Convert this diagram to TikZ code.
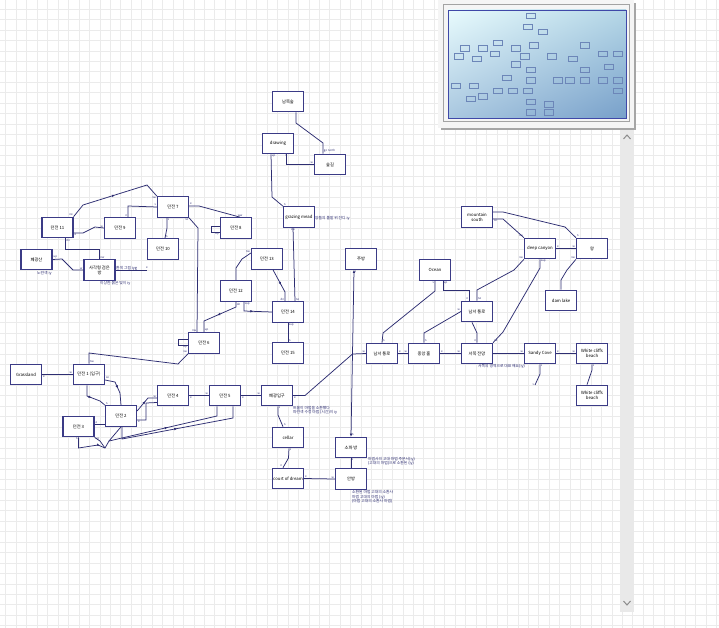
\documentclass[tikz,border=0pt]{standalone}
\usepackage{fontspec}
\setmainfont{Liberation Sans}
\newfontfamily\kr{Noto Sans CJK KR}
\usetikzlibrary{positioning, calc, arrows.meta, decorations.markings, shadings}
\definecolor{navy}{HTML}{2E2E72}
\definecolor{boxline}{HTML}{3B3B86}
\definecolor{gridgray}{HTML}{EBEBEB}
\definecolor{framegray}{HTML}{A3A3A3}
\definecolor{minibox}{HTML}{6C86B8}
\definecolor{mapedge}{HTML}{3F48A8}
\definecolor{barfill}{HTML}{E9E9E9}
\definecolor{mapUL}{HTML}{E8FBFD}
\definecolor{mapUR}{HTML}{B4D6E6}
\definecolor{mapLL}{HTML}{AAC8E0}
\definecolor{mapLR}{HTML}{78A0CA}

\begin{document}
\begin{tikzpicture}[x=1pt, y=-1pt,
    room/.style={draw=boxline, line width=1.2pt, fill=white, minimum width=31pt,
        minimum height=20.5pt, inner sep=0.5pt, align=center,
        font=\kr\fontsize{4.3}{4.9}\selectfont},
    link/.style={draw=navy, line width=0.75pt},
    flow/.style={postaction={decorate}, decoration={markings,
        mark=at position 0.5 with {\arrow[navy]{Latex[length=3pt,width=2.6pt]}}}},
    tag/.style={font=\kr\fontsize{2.8}{3}\selectfont, text=navy, inner sep=0.6pt},
    note/.style={font=\kr\fontsize{3.8}{4.4}\selectfont, text=navy, inner sep=0pt,
        anchor=west, align=left},
    tip/.style={{Latex[length=3pt,width=2.6pt]}-{Latex[length=3pt,width=2.6pt]}}
]
\useasboundingbox (0,0) rectangle (719,628);
\fill[white] (0,0) rectangle (719,628);
\foreach \i in {0,...,68}
    \draw[gridgray, line width=0.5pt] ({5.7+\i*10.45},0) -- ({5.7+\i*10.45},628);
\foreach \j in {0,...,60}
    \draw[gridgray, line width=0.5pt] (0,{9+\j*10.45}) -- (719,{9+\j*10.45});

% rooms, west part
\node[room] (b11) at (57.5,227.5) {던전 11};
\node[room] (b9) at (120,228) {던전 9};
\node[room] (b7) at (173,207) {던전 7};
\node[room] (b10) at (163,249) {던전 10};
\node[room] (b8) at (236,228) {던전 8};
\node[room] (pm) at (36.5,259.5) {폐광산};
\node[room] (sq) at (99.5,270) {사각형 검은\\방};
\node[room] (b13) at (267,259) {던전 13};
\node[room] (b12) at (236,291) {던전 12};
\node[room] (b14) at (288,312) {던전 14};
\node[room] (b15) at (288,353) {던전 15};
\node[room] (b6) at (204,343) {던전 6};
\node[room] (gl) at (26,374.5) {Grassland};
\node[room] (b1) at (89,374.5) {던전 1 (입구)};
\node[room] (b2) at (121,416) {던전 2};
\node[room] (b3) at (78.5,426.5) {던전 3};
\node[room] (b4) at (173,395.5) {던전 4};
\node[room] (b5) at (225,395.5) {던전 5};
\node[room] (cave) at (277,395.5) {폐광입구};
\node[room] (cellar) at (288,437.5) {cellar};
\node[room] (court) at (288,478.5) {court of dream};
\node[room] (sofa) at (351,447.5) {소파 방};
\node[room] (inner) at (351,479) {안방};
\node[room] (kitchen) at (361,259) {주방};
% rooms, north part
\node[room] (forest) at (288,101.5) {남쪽숲};
\node[room] (drawing) at (278,143.5) {drawing};
\node[room] (path) at (330,164.5) {숲길};
\node[room] (graze) at (299,217) {grazing mead};
% rooms, east part
\node[room] (sw1) at (382,353.5) {남서 통로};
\node[room] (hall) at (424,353.5) {중앙 홀};
\node[room] (west) at (477,353.5) {서쪽 전망};
\node[room] (cove) at (540,353.5) {Sandy Cove};
\node[room] (wcb1) at (592,353.5) {White cliffs\\beach};
\node[room] (wcb2) at (592,395.5) {White cliffs\\beach};
\node[room] (sw2) at (477,311.5) {남서 통로};
\node[room] (ocean) at (435,270) {Ocean};
\node[room] (msouth) at (477,217) {mountain\\south};
\node[room] (canyon) at (540,248.5) {deep canyon};
\node[room] (king) at (592,248.5) {왕};
\node[room] (dam) at (561,300.5) {dam lake};

\coordinate (sqend) at (147,270);
\coordinate (knot) at (109,441);
\coordinate (hub) at (352.5,354);
\coordinate (coveend) at (535,385);

% notes
\node[note] (n1) at (37,273) {노란색 iy};
\node[note] (n2) at (100,283) {이상한 붉은 빛이 iy};
\node[note] (n3) at (116,268.5) {흰색 그림 iyg};
\node[note] (n4) at (315,218) {양들의 풀밭 위 잔디 iy};
\node[note] (n5) at (293,410.5) {트롤이 마법을 소환했다\\파란색 수정 마법 (시간)이 iy};
\node[note] (n6) at (368,461.5) {마법사의 고대 마법 주문서(iy)\\(고대의 마법)으로 소환된 (iy)};
\node[note] (n7) at (352,497) {소환된 마법 고대의 소환사\\마법 고대의 마법 (iy)\\(마법 고대의 소환사 마법)};
\node[note] (n8) at (478,366) {서쪽의 영역으로 대표 해요(iy)};

% connectors, west part
\draw[link, flow] (b11.north east) node[tag, above left]{ne} -- (83,205) -- (147,185)
    -- (b7.north west) node[tag, below left]{sw};
\draw[link] ($(b11.east)+(0,5.5)$) node[tag, below right]{e} -- (83,233) -- (95,227)
    -- (b9.west) node[tag, above left]{w};
\draw[link] ($(b9.north)+(8,0)$) node[tag, above left]{n} -- (128,206)
    -- (b7.west) node[tag, above left]{s};
\draw[link] ($(b7.south)+(-6,0)$) node[tag, below right]{s} -- (167,228)
    -- ($(b10.north)+(2,0)$) node[tag, above right]{n};
\draw[link] ($(b7.east)+(0,-1)$) node[tag, above right]{e} -- (199,206)
    -- ($(b8.north)+(4,0)$) node[tag, above]{ww};
\draw[link] (b7.south east) node[tag, below left]{se} -- (198,228)
    -- ($(b6.north)+(-7,0)$) node[tag, above left]{nw};
\draw[link] ($(b8.west)+(0,-2)$) -- ++(-9,0) -- ++(0,6) -- ($(b8.west)+(0,4)$)
    node[tag, below left]{up};
\draw[link] (pm.east) node[tag, above right]{up} -- (62,259) -- (73,270)
    -- (sq.west) node[tag, above left]{w};
\draw[link] ($(b11.south)+(8,0)$) node[tag, below right]{dn} -- (65.5,249) -- (99.5,249)
    -- (sq.north) node[tag, above right]{nw};
\draw[link] (sq.east) -- (sqend) node[tag, above]{e};
\draw[link] ($(b13.west)+(0,-6)$) node[tag, above left]{nw} -- (242,259) -- (236,268)
    -- (b12.north);
\draw[link, flow] (b12.south) node[tag, below right]{dn} -- (236,307) -- (204,321)
    -- (b6.north) node[tag, above right]{up};
\draw[link, flow] ($(b12.south)+(8,0)$) node[tag, below right]{sup} -- (244,311)
    -- (b14.west);
\draw[link, flow] ($(b13.south)+(6,0)$) -- (285,292)
    -- ($(b14.north)+(-3,0)$) node[tag, above left]{dn};
\draw[link] ($(graze.south)+(-6,0)$) node[tag, below]{sw}
    -- ($(b14.north)+(7,0)$) node[tag, above right]{ne};
\draw[link] (b14.south) node[tag, below right]{sup} -- (b15.north) node[tag, above right]{n};
\draw[link] ($(b6.west)+(0,-4)$) -- ++(-10,0) -- ++(0,6) -- ($(b6.west)+(0,2)$)
    node[tag, below left]{up};
\draw[link] (b6.south west) node[tag, above left]{sw} -- (178,364) -- (89,353)
    -- (b1.north) node[tag, above right]{nw};
\draw[link] (gl.east) node[tag, below right]{e} -- (b1.west) node[tag, above left]{w};
\draw[link, flow] ($(b1.south)+(-2,0)$) -- (87,396) -- (100,401)
    -- (b2.north west) node[tag, above right]{n};
\draw[link, flow] ($(b1.east)+(0,5.5)$) node[tag, above right]{se} -- (115,382) -- (120,393)
    -- (b2.north);
\draw[link, flow] ($(b2.east)+(0,-5)$) -- (148,398)
    -- ($(b4.west)+(0,2.5)$) node[tag, above left]{w};
\draw[link] ($(b2.east)+(0,4)$) node[tag, below right]{e} -- (146,420) -- (146,403)
    -- ($(b4.west)+(0,7)$);
\draw[link] (b4.east) node[tag, below right]{e} -- (b5.west) node[tag, above left]{w};
\draw[link] (b5.east) node[tag, below right]{e} -- (cave.west) node[tag, above left]{w};
\draw[link] ($(b3.east)+(0,-2)$) node[tag, above right]{e} -- ($(b2.west)+(0,8.5)$);
\draw[link, flow] (b3.south) node[tag, below left]{n} -- (78.5,448) -- (98,445) -- (105,448)
    -- (knot) -- (b2.south);
\draw[link] (b3.south east) node[tag, below right]{up} -- (100,441) -- (105,448);
\draw[link, flow] (knot) -- (217,416) -- ($(b5.south)+(-8,0)$);
\draw[link, flow] ($(b2.south)+(1,0)$) -- (122,439) -- (233,418) -- ($(b5.south)+(8,0)$);

% connectors, middle part
\draw[link] (cave.east) node[tag, below right]{e} -- (305,395.5) -- (hub)
    -- (sw1.west) node[tag, above left]{w};
\draw[link, tip] ($(kitchen.south)+(-7,0)$) node[tag, below right]{s}
    -- (sofa.north) node[tag, above right]{n};
\draw[link] ($(cave.south)+(1,0)$) node[tag, below right]{s} -- (278,415)
    -- ($(cellar.north)+(-5,0)$) node[tag, above right]{n};
\draw[link] ($(cellar.south)+(1,0)$) node[tag, below right]{s} -- (288.5,458)
    -- ($(court.north)+(-5,0)$) node[tag, above left]{n};
\draw[link] (court.east) node[tag, above right]{e} -- (inner.west) node[tag, above left]{w};
\draw[link] (sofa.south) node[tag, below right]{s} -- (inner.north);
\draw[link] ($(forest.south)+(8,0)$) -- (296,123) -- (323,143)
    -- ($(path.north)+(-7,0)$) node[tag, above right]{go north};
\draw[link] ($(drawing.south)+(8,0)$) node[tag, below]{s} -- (286,164.5)
    -- (path.west) node[tag, above left]{w};
\draw[link] ($(drawing.south)+(-7,0)$) node[tag, below right]{up} -- (272,197)
    -- (graze.north west) node[tag, above right]{n};

% connectors, east part
\draw[link] (sw1.east) node[tag, above right]{e} -- (hall.west) node[tag, above left]{w};
\draw[link] (hall.east) node[tag, above right]{e} -- (west.west) node[tag, above left]{w};
\draw[link] (west.east) -- (cove.west) node[tag, above left]{w};
\draw[link] (cove.east) node[tag, above right]{e} -- (wcb1.west) node[tag, above left]{w};
\draw[link] (wcb1.south) node[tag, below right]{s} -- (592,370)
    -- ($(wcb2.north)+(-5,0)$);
\draw[link] (cove.south) node[tag, below right]{s} -- (540,374)
    -- (coveend) node[tag, left]{s};
\draw[link] (sw1.north) node[tag, above right]{n} -- (383,333) -- (435,291)
    -- (ocean.south) node[tag, below left]{s};
\draw[link] ($(ocean.south)+(8,0)$) node[tag, below right]{up} -- (443,290) -- (469,290)
    -- ($(sw2.north)+(-8,0)$) node[tag, above left]{n};
\draw[link] (hall.north) node[tag, above right]{n} -- (424,333)
    -- (sw2.west) node[tag, above left]{w};
\draw[link] ($(sw2.south)+(-5,0)$) -- (477,333) -- (west.north) node[tag, above left]{n};
\draw[link] (sw2.north) node[tag, above right]{ne} -- (477,290) -- (514,270)
    -- (canyon.south west) node[tag, above left]{sw};
\draw[link] (canyon.south) node[tag, below right]{sup} -- (540,268) -- (503,332)
    -- (west.north east) node[tag, above right]{ne};
\draw[link] ($(msouth.east)+(0,2)$) node[tag, below right]{se} -- (503,219)
    -- (canyon.north west) node[tag, above left]{nw};
\draw[link] ($(msouth.east)+(0,-5)$) -- (503,212) -- (565,227)
    -- (king.north west) node[tag, above right]{n};
\draw[link] (canyon.east) node[tag, above right]{e} -- (king.west) node[tag, above left]{w};
\draw[link] (king.south west) node[tag, above left]{sw} -- (567,270) -- (561,280)
    -- (dam.north);

% overview window
\fill[black!35] (441,3) rectangle (636,130);
\fill[white!96!black] (438,0) rectangle (634,128);
\draw[framegray, line width=1pt] (443,5) rectangle (629,122);
\shade[upper left=mapUL, upper right=mapUR, lower left=mapLL, lower right=mapLR]
    (448,10) rectangle (626,118);
\draw[mapedge, line width=0.9pt] (448,10) rectangle (626,118);
\foreach \cx/\cy in {57.5/227.5, 120/228, 173/207, 163/249, 236/228, 36.5/259.5,
    99.5/270, 267/259, 236/291, 288/312, 288/353, 204/343, 26/374.5, 89/374.5,
    121/416, 78.5/426.5, 173/395.5, 225/395.5, 277/395.5, 288/437.5, 288/478.5,
    351/447.5, 351/479, 361/259, 288/101.5, 278/143.5, 330/164.5, 299/217,
    382/353.5, 424/353.5, 477/353.5, 540/353.5, 592/353.5, 592/395.5, 477/311.5,
    435/270, 477/217, 540/248.5, 592/248.5, 561/300.5}
    \draw[minibox, line width=0.8pt]
        ({456+0.2857*(\cx-26)-4.5},{16+0.255*(\cy-101)-2.7}) rectangle ++(9,5.4);

% scroll bar
\fill[barfill] (620,130) rectangle (634,612);
\draw[black!45, line width=1pt] (623.5,139) -- (627,135) -- (630.5,139);
\draw[black!45, line width=1pt] (623.5,601) -- (627,605) -- (630.5,601);
\end{tikzpicture}
\end{document}
